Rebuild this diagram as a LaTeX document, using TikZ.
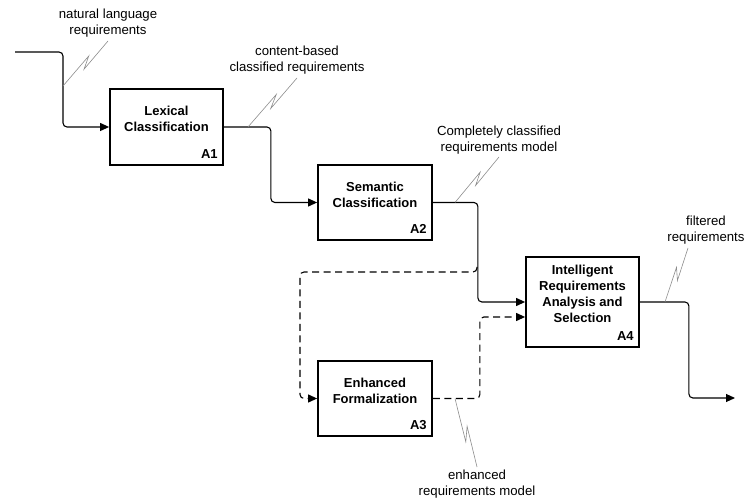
\documentclass[tikz,border=0pt]{standalone}
\usepackage{fontspec}
\setmainfont{Liberation Sans}
\usetikzlibrary{arrows.meta,calc}
\newcommand{\zzline}[4]{%
  \draw[zz] (#1) -- ($(#1)!0.62!(#2)!3pt!#3:(#2)$) -- ($(#1)!0.42!(#2)!3pt!#4:(#2)$) -- (#2);}
\begin{document}
\begin{tikzpicture}[x=1pt,y=1pt,
  proc/.style={draw,line width=1.8pt,minimum width=113pt,minimum height=76pt,inner sep=0pt},
  ptext/.style={font=\fontsize{13}{16}\selectfont\bfseries,align=center,inner sep=0pt},
  pid/.style={font=\fontsize{13}{15}\selectfont\bfseries,anchor=base east,inner sep=0pt},
  lab/.style={font=\fontsize{13.2}{16}\selectfont,align=center,inner sep=0pt},
  flow/.style={line width=1.1pt,rounded corners=4pt},
  tip/.style={-{Triangle[length=9pt,width=8pt]}},
  dflow/.style={flow,dash pattern=on 7pt off 4.5pt},
  zz/.style={draw=black!45,line width=0.6pt}]
\useasboundingbox (0,0) rectangle (751,500);

% boxes
\node[proc] (a1) at (166.5,373) {};
\node[proc,minimum width=114pt,minimum height=75pt] (a2) at (375,297.5) {};
\node[proc,minimum width=114pt,minimum height=75pt] (a3) at (375,101.5) {};
\node[proc,minimum height=90pt] (a4) at (582.5,198) {};

\node[ptext] (a1t) at ([yshift=8]a1.center) {Lexical\\Classification};
\node[ptext] (a2t) at ([yshift=8]a2.center) {Semantic\\Classification};
\node[ptext] (a3t) at ([yshift=8]a3.center) {Enhanced\\Formalization};
\node[ptext] (a4t) at ([yshift=8]a4.center) {Intelligent\\Requirements\\Analysis and\\Selection};

\node[pid] (a1id) at ([xshift=-6,yshift=7]a1.south east) {A1};
\node[pid] (a2id) at ([xshift=-6,yshift=7]a2.south east) {A2};
\node[pid] (a3id) at ([xshift=-6,yshift=7]a3.south east) {A3};
\node[pid] (a4id) at ([xshift=-6,yshift=7]a4.south east) {A4};

% connectors
\coordinate (in) at (15,448);
\coordinate (out) at (735,102);
\draw[flow,tip] (in) -- ++(48,0) |- (a1.west);
\draw[flow,tip] (a1.east) -- ++(47,0) |- (a2.west);
\draw[flow,tip] (a2.east) -- ++(45,0) coordinate (j2) |- (a4.west);
\coordinate (br0) at (477,233);
\coordinate (br) at (477,228);
\draw[dflow,tip] (br0) -- (br) -- ++(-177,0) |- (a3.west);
\draw[dflow,tip] (a3.east) -- ++(47,0) |- ([yshift=-15]a4.west);
\draw[flow,tip] (a4.east) -- ++(49,0) |- (out);

% labels
\node[lab] (l1) at (108,477) {natural language\\requirements};
\node[lab] (l2) at (297,439.5) {content-based\\classified requirements};
\node[lab] (l3) at (499,360) {Completely classified\\requirements model};
\node[lab] (l4) at (706,270) {filtered\\requirements};
\node[lab] (l5) at (477,16) {enhanced\\requirements model};

% squiggles
\coordinate (s1a) at (63,414);  \coordinate (s1b) at (108,459);
\coordinate (s2a) at (248,373); \coordinate (s2b) at (297,422);
\coordinate (s3a) at (455,297.5); \coordinate (s3b) at (499,343);
\coordinate (s4a) at (665,198); \coordinate (s4b) at (688,252);
\coordinate (s5a) at (455,101.5); \coordinate (s5b) at (477,33);
\zzline{s1a}{s1b}{90}{-90}
\zzline{s2a}{s2b}{90}{-90}
\zzline{s3a}{s3b}{90}{-90}
\zzline{s4a}{s4b}{90}{-90}
\zzline{s5a}{s5b}{-90}{90}
\end{tikzpicture}
\end{document}
